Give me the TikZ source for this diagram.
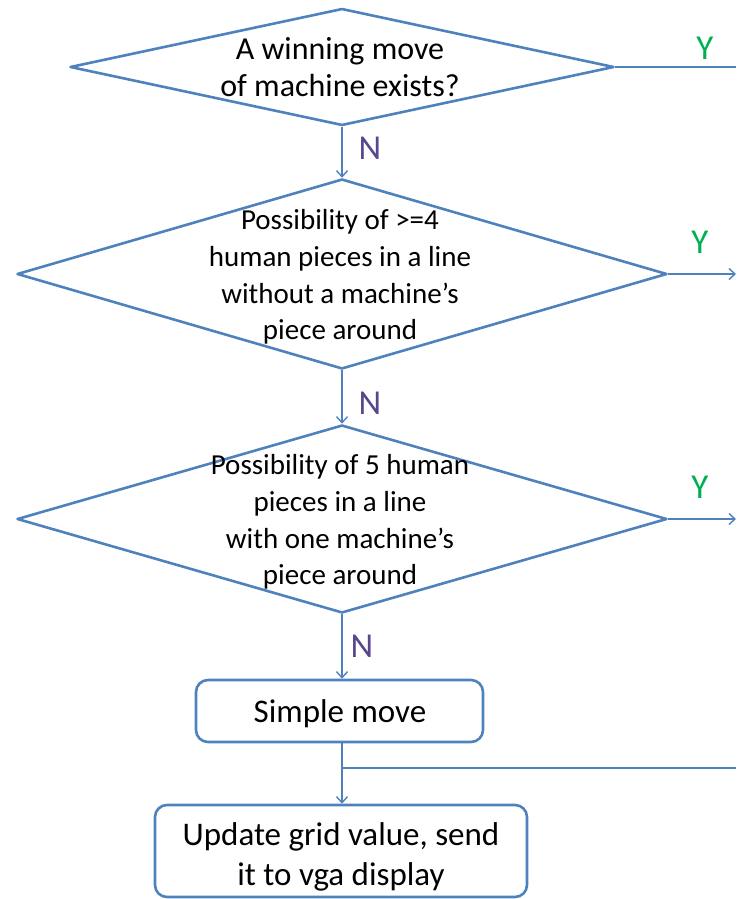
\documentclass[tikz,border=0pt]{standalone}
\usepackage{fontspec}
\setmainfont{Carlito}
\usetikzlibrary{shapes.geometric,arrows.meta}
\definecolor{edge}{RGB}{79,129,189}
\definecolor{yes}{RGB}{0,176,80}
\definecolor{no}{RGB}{90,70,140}
\tikzset{
  decision/.style={shape=diamond,draw=edge,line width=2.6pt,inner sep=0pt,
    minimum width=#1,line join=round},
  process/.style={draw=edge,line width=2.6pt,rounded corners=12pt,
    minimum width=#1},
  flow/.style={draw=edge,line width=1.4pt,-{Straight Barb[length=6pt,width=11pt,line width=1.4pt]}},
  plain/.style={draw=edge,line width=1.4pt},
  qtext/.style={align=center,inner sep=0pt},
  yeslab/.style={text=yes,font=\fontsize{35}{35}\selectfont,inner sep=0pt},
  nolab/.style={text=no,font=\fontsize{35}{35}\selectfont,inner sep=0pt}
}
\begin{document}
\begin{tikzpicture}[x=1pt,y=-1pt]
\useasboundingbox (0,0) rectangle (736,899);

% decisions
\node[decision=544pt,minimum height=117pt] (d1) at (342,67) {};
\node[qtext,font=\fontsize{32}{37}\selectfont] (t1) at (340,67) {A winning move\\of machine exists?};

\node[decision=650pt,minimum height=190pt] (d2) at (342,274) {};
\node[qtext,font=\fontsize{29}{36.7}\selectfont] (t2) at (340,277)
  {Possibility of >=4\\human pieces in a line\\without a machine’s\\piece around};

\node[decision=650pt,minimum height=188pt] (d3) at (342,519) {};
\node[qtext,font=\fontsize{29}{36.7}\selectfont] (t3) at (340,522)
  {Possibility of 5 human\\pieces in a line\\with one machine’s\\piece around};

% actions
\node[process=287pt,minimum height=62pt] (simple) at (339.5,711) {};
\node[qtext,font=\fontsize{33}{40}\selectfont] (t4) at (340,714) {Simple move};
\node[process=372pt,minimum height=92pt] (update) at (341,851) {};
\node[qtext,font=\fontsize{33}{40}\selectfont] (t5) at (341,857)
  {Update grid value, send\\it to vga display};

% outgoing "yes" branches
\coordinate (y1) at (736,67);
\coordinate (y2) at (736,274);
\coordinate (y3) at (736,519);
\draw[plain] (d1.east) -- (y1);
\draw[flow] (d2.east) -- (y2);
\draw[flow] (d3.east) -- (y3);
\node[yeslab] (ly1) at (705,48) {Y};
\node[yeslab] (ly2) at (700,242) {Y};
\node[yeslab] (ly3) at (700,487) {Y};

% "no" chain
\draw[flow] (d1.south) -- (d2.north);
\draw[flow] (d2.south) -- (d3.north);
\draw[flow] (d3.south) -- (d3.south |- simple.north);
\node[nolab] (ln1) at (370,148) {N};
\node[nolab] (ln2) at (370,403) {N};
\node[nolab] (ln3) at (362,646) {N};

% into the update step, with the merge line from the right
\coordinate (join) at (342,768);
\coordinate (jr) at (736,768);
\draw[flow] (d3.south |- simple.south) -- (d3.south |- update.north);
\draw[plain] (join) -- (jr);
\end{tikzpicture}
\end{document}
